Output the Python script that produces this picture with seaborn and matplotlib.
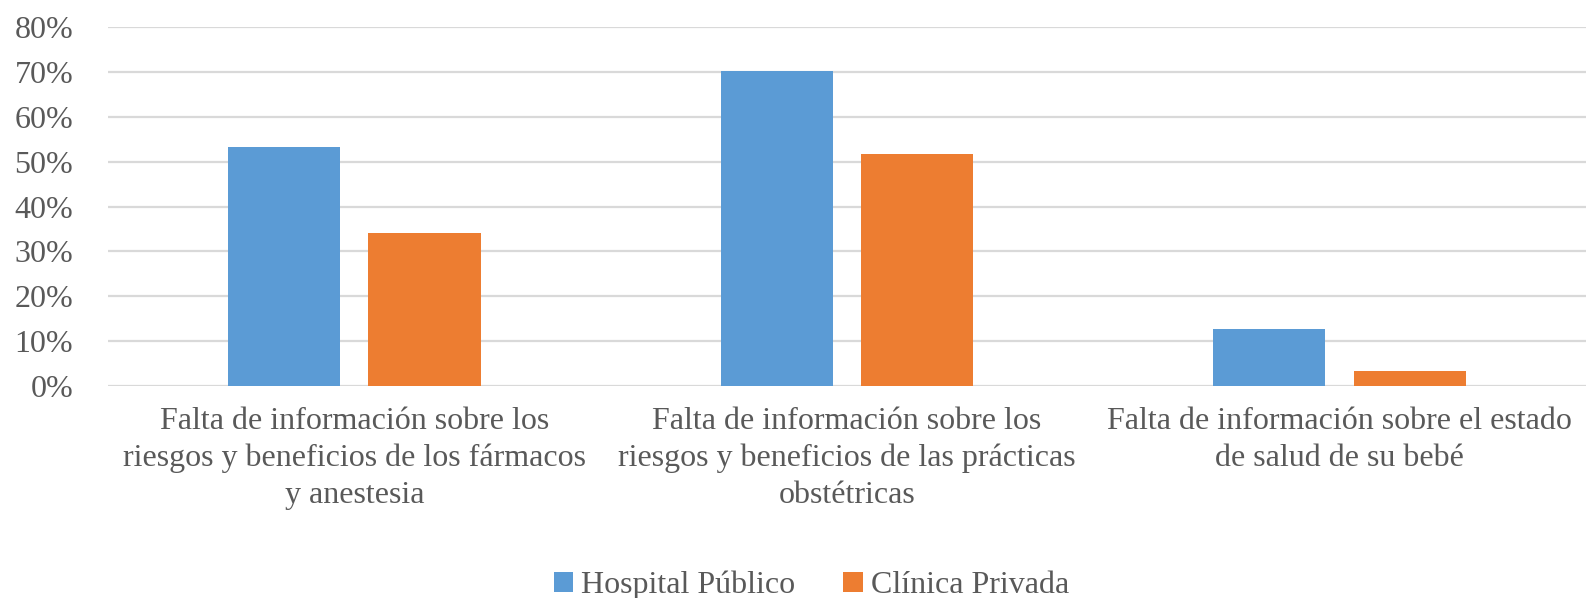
import numpy as np
import pandas as pd
import matplotlib
matplotlib.use("Agg")
import matplotlib.pyplot as plt
import seaborn as sns
from matplotlib.ticker import PercentFormatter

categories = [
    "Falta de información sobre los\nriesgos y beneficios de los fármacos\ny anestesia",
    "Falta de información sobre los\nriesgos y beneficios de las prácticas\nobstétricas",
    "Falta de información sobre el estado\nde salud de su bebé",
]
series = ["Hospital Público", "Clínica Privada"]
hospital_publico = [0.532, 0.703, 0.126]
clinica_privada = [0.340, 0.518, 0.034]
yticks = [0, 0.1, 0.2, 0.3, 0.4, 0.5, 0.6, 0.7, 0.8]

df = pd.DataFrame({
    "categoria": categories * 2,
    "serie": [series[0]] * 3 + [series[1]] * 3,
    "valor": hospital_publico + clinica_privada,
})

sns.set_style("white")
plt.rcParams["font.family"] = ["Liberation Serif", "DejaVu Serif"]
text_col = "#595959"
fs = 23

fig = plt.figure(figsize=(15.89, 5.98), dpi=100)
ax = fig.add_axes([0.068, 0.3545, 0.93, 0.6003])

sns.barplot(data=df, x="categoria", y="valor", hue="serie",
            palette=["#5B9BD5", "#ED7D31"], saturation=1,
            width=0.57, gap=0.2, edgecolor="none", ax=ax)

ax.set_ylim(0, 0.8)
ax.set_xlim(-0.5, 2.5)
ax.set_yticks(yticks)
ax.yaxis.set_major_formatter(PercentFormatter(1.0, decimals=0))
ax.yaxis.grid(True, color="#d9d9d9", linewidth=1.6)
ax.set_axisbelow(True)
for s in ax.spines.values():
    s.set_visible(False)
ax.set_xlabel("")
ax.set_ylabel("")
ax.tick_params(axis="y", labelsize=fs, colors=text_col, length=0, pad=25)
ax.tick_params(axis="x", labelsize=fs, colors=text_col, length=0, pad=15)
for lab in ax.get_xticklabels():
    lab.set_linespacing(1.36)

ax.legend(loc="center", bbox_to_anchor=(0.476, -0.555), ncol=2,
          frameon=False, fontsize=fs, labelcolor=text_col,
          handlelength=0.6, handleheight=0.6, handletextpad=0.25,
          columnspacing=1.5)

fig.savefig("out.png", dpi=100)
